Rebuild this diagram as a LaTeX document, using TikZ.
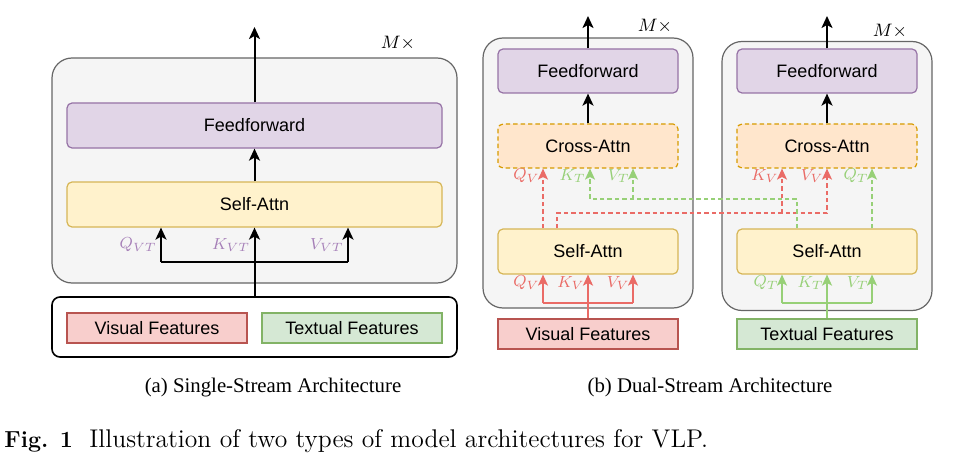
\documentclass[tikz,border=0pt]{standalone}
\usepackage{amsmath,amssymb}
\usepackage{fontspec}
\newfontfamily\boxfont{Liberation Sans}
\newfontfamily\capfont{Liberation Serif}
\usepackage{tikz}
\usetikzlibrary{arrows.meta}

\definecolor{ffFill}{HTML}{E1D5E7}
\definecolor{ffDraw}{HTML}{9673A6}
\definecolor{saFill}{HTML}{FFF2CC}
\definecolor{saDraw}{HTML}{D6B656}
\definecolor{caFill}{HTML}{FFE6CC}
\definecolor{caDraw}{HTML}{D79B00}
\definecolor{visFill}{HTML}{F8CECC}
\definecolor{visDraw}{HTML}{B85450}
\definecolor{txtFill}{HTML}{D5E8D4}
\definecolor{txtDraw}{HTML}{82B366}
\definecolor{contFill}{HTML}{F5F5F5}
\definecolor{contDraw}{HTML}{666666}
\definecolor{redLine}{HTML}{EA6B66}
\definecolor{grnLine}{HTML}{97D077}
\definecolor{purpLab}{HTML}{A680B8}

\begin{document}
\begin{tikzpicture}[x=0.5pt, y=-0.5pt,
		block/.style = {draw = contDraw, fill = contFill, line width = 0.6pt, rounded corners = 10pt, inner sep = 0pt},
		box/.style = {rounded corners = 2.5pt, line width = 0.6pt, minimum width = 90pt, minimum height = 22pt, inner sep = 0pt, font = \boxfont\fontsize{9}{10}\selectfont},
		feat/.style = {box, rounded corners = 0pt, minimum height = 15pt},
		dashes/.style = {dash pattern = on 2.2pt off 1.5pt},
		cross/.style = {box, dashes, fill = caFill, draw = caDraw},
		arr/.style = {line width = 1pt, -{Stealth[length = 6pt, width = 5.5pt, inset = 1.5pt]}},
		redarr/.style = {line width = 0.65pt, draw = redLine, -{Stealth[length = 5.5pt, width = 5pt, inset = 1.3pt]}},
		grnarr/.style = {line width = 0.65pt, draw = grnLine, -{Stealth[length = 5.5pt, width = 5pt, inset = 1.3pt]}},
		lab/.style = {anchor = east, inner sep = 0pt, font = \fontsize{8.5}{9}\selectfont},
		captext/.style = {anchor = base, inner sep = 0pt, font = \capfont\fontsize{10.4}{12}\selectfont}]
	\useasboundingbox (0, 0) rectangle (958, 465);

	% single stream
	\node [block, minimum width = 202.5pt, minimum height = 112.5pt] (ssblock) at (254.5, 170.5) {};
	\node [box, fill = ffFill, draw = ffDraw, minimum width = 187.5pt, minimum height = 22.5pt] (ssff) at (254.5, 125.5) {Feedforward};
	\node [box, fill = saFill, draw = saDraw, minimum width = 187.5pt, minimum height = 22.5pt] (sssa) at (254.5, 204.5) {Self-Attn};
	\node [draw, line width = 0.8pt, rounded corners = 4pt, minimum width = 202.5pt, minimum height = 30pt] (ssin) at (254.5, 327) {};
	\node [feat, fill = visFill, draw = visDraw] (ssvis) at (157, 328) {Visual Features};
	\node [feat, fill = txtFill, draw = txtDraw] (sstxt) at (352, 328) {Textual Features};
	\node [inner sep = 0pt, font = \fontsize{8.6}{10}\selectfont] (ssrep) at (398, 43) {$M\times$};

	\coordinate (ssout) at (254.5, 27);
	\coordinate (ssq) at (161, 262);
	\coordinate (ssv) at (348, 262);
	\draw [arr] (ssff.north) -- (ssout);
	\draw [arr] (sssa.north) -- (ssff.south);
	\draw [arr] (ssin.north) -- (sssa.south);
	\draw [line width = 0.8pt] (ssq) -- (ssv);
	\draw [arr] (ssq) -- (ssq |- sssa.south);
	\draw [arr] (ssv) -- (ssv |- sssa.south);
	\node [lab, text = purpLab] (ssqlab) at (157, 245) {$Q_{VT}$};
	\node [lab, text = purpLab] (ssklab) at (250.5, 245) {$K_{VT}$};
	\node [lab, text = purpLab] (ssvlab) at (344, 245) {$V_{VT}$};

	% dual stream
	\node [block, minimum width = 105pt, minimum height = 135pt] (dlblock) at (588, 173) {};
	\node [block, minimum width = 105pt, minimum height = 134.5pt] (drblock) at (827, 176) {};
	\node [box, fill = ffFill, draw = ffDraw] (dlff) at (588, 71) {Feedforward};
	\node [box, fill = ffFill, draw = ffDraw] (drff) at (827, 71) {Feedforward};
	\node [cross] (dlca) at (588, 146) {Cross-Attn};
	\node [cross] (drca) at (827, 146) {Cross-Attn};
	\node [box, fill = saFill, draw = saDraw, minimum height = 22.5pt] (dlsa) at (588, 251.5) {Self-Attn};
	\node [box, fill = saFill, draw = saDraw, minimum height = 22.5pt] (drsa) at (827, 251.5) {Self-Attn};
	\node [feat, fill = visFill, draw = visDraw] (dlvis) at (588, 334) {Visual Features};
	\node [feat, fill = txtFill, draw = txtDraw] (drtxt) at (827, 334) {Textual Features};
	\node [inner sep = 0pt, font = \fontsize{8.6}{10}\selectfont] (dlrep) at (655, 26) {$M\times$};
	\node [inner sep = 0pt, font = \fontsize{8.6}{10}\selectfont] (drrep) at (890, 31) {$M\times$};

	\coordinate (dlout) at (588, 16);
	\coordinate (drout) at (827, 16);
	\draw [arr] (dlff.north) -- (dlout);
	\draw [arr] (drff.north) -- (drout);
	\draw [arr] (dlca.north) -- (dlff.south);
	\draw [arr] (drca.north) -- (drff.south);

	% inputs of the self-attn blocks
	\coordinate (dlq) at (543, 303);
	\coordinate (dlv) at (633, 303);
	\coordinate (drq) at (782, 303);
	\coordinate (drv) at (872, 303);
	\draw [redarr, line width = 0.9pt] (dlvis.north) -- (dlsa.south);
	\draw [redLine, line width = 0.65pt] (dlq) -- (dlv);
	\draw [redarr] (dlq) -- (dlq |- dlsa.south);
	\draw [redarr] (dlv) -- (dlv |- dlsa.south);
	\draw [grnarr, line width = 0.9pt] (drtxt.north) -- (drsa.south);
	\draw [grnLine, line width = 0.65pt] (drq) -- (drv);
	\draw [grnarr] (drq) -- (drq |- drsa.south);
	\draw [grnarr] (drv) -- (drv |- drsa.south);

	% inputs of the cross-attn blocks
	\coordinate (redA) at (557, 213);
	\coordinate (redB) at (827, 213);
	\coordinate (redK) at (782, 213);
	\coordinate (grnA) at (797, 199);
	\coordinate (grnB) at (590, 199);
	\coordinate (grnV) at (633, 199);
	\draw [redarr, dashes] (dlsa.north -| dlq) -- (dlca.south -| dlq);
	\draw [redarr, dashes] (dlsa.north -| redA) -- (redA) -- (redB) -- (redB |- drca.south);
	\draw [redarr, dashes] (redK) -- (redK |- drca.south);
	\draw [grnarr, dashes] (drsa.north -| grnA) -- (grnA) -- (grnB) -- (grnB |- dlca.south);
	\draw [grnarr, dashes] (grnV) -- (grnV |- dlca.south);
	\draw [grnarr, dashes] (drsa.north -| drv) -- (drca.south -| drv);

	\node [lab, text = redLine] (dlqlab) at (540, 176) {$Q_V$};
	\node [lab, text = grnLine] (dlklab) at (586, 176) {$K_T$};
	\node [lab, text = grnLine] (dlvlab) at (630, 176) {$V_T$};
	\node [lab, text = redLine] (drklab) at (779, 176) {$K_V$};
	\node [lab, text = redLine] (drvlab) at (824, 176) {$V_V$};
	\node [lab, text = grnLine] (drqlab) at (869, 176) {$Q_T$};
	\node [lab, text = redLine] (slqlab) at (540, 283) {$Q_V$};
	\node [lab, text = redLine] (slklab) at (585, 283) {$K_V$};
	\node [lab, text = redLine] (slvlab) at (630, 283) {$V_V$};
	\node [lab, text = grnLine] (srqlab) at (779, 283) {$Q_T$};
	\node [lab, text = grnLine] (srklab) at (824, 283) {$K_T$};
	\node [lab, text = grnLine] (srvlab) at (869, 283) {$V_T$};

	% captions
	\node [captext] (capa) at (273, 392) {(a) Single-Stream Architecture};
	\node [captext] (capb) at (710, 392) {(b) Dual-Stream Architecture};
	\node [anchor = base west, inner sep = 0pt, font = \bfseries\fontsize{11.6}{13}\selectfont] (figlab) at (4, 447) {Fig. 1};
	\node [anchor = base west, inner sep = 0pt, font = \fontsize{12.8}{14}\selectfont] (figtext) at (89, 447) {Illustration of two types of model architectures for VLP.};
\end{tikzpicture}
\end{document}
